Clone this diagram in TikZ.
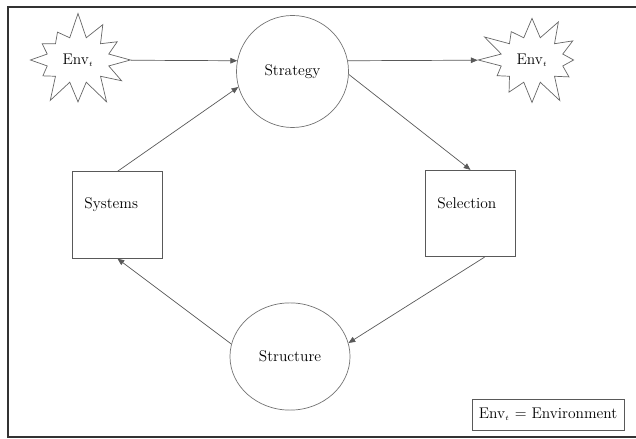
\documentclass[tikz,border=0pt]{standalone}
\usepackage{amsmath, amssymb}
\usepackage{tikz}
\usetikzlibrary{arrows.meta, positioning, shapes, shapes.geometric, shapes.symbols, calc}

\begin{document}
\begin{tikzpicture}[
  x=0.025cm, y=0.025cm,
  every node/.style={font=\fontsize{11}{13}\selectfont},
  burst/.style={starburst, draw=black!60, line width=0.5pt, starburst points=12,
    starburst point height=0.65cm, minimum width=2.4cm, minimum height=2.2cm,
    inner xsep=5pt, inner ysep=7pt},
  roundbox/.style={circle, draw=black!55, line width=0.5pt, minimum size=2.8cm},
  ovalbox/.style={ellipse, draw=black!55, line width=0.5pt, minimum width=3.0cm, minimum height=2.68cm},
  squarebox/.style={rectangle, draw=black!65, line width=0.6pt, minimum width=2.23cm, minimum height=2.16cm},
  frame/.style={draw=black!80, line width=1.3pt},
  flow/.style={draw=black!65, line width=0.5pt, -{Triangle[length=1.7mm, width=1.4mm]}}
]
\useasboundingbox (0,0) rectangle (636,439);
\draw[frame] (640,432) -- (8,432) -- (8,2) -- (640,2);

\node[burst, random starburst=7] (EnvIn) at (78,379) {Env$_{\scriptscriptstyle t}$};
\node[roundbox] (Strategy) at (292.5,367.5) {Strategy};
\node[burst, random starburst=21] (EnvOut) at (532,379) {Env$_{\scriptscriptstyle t}$};

\node[squarebox] (Systems) at (117.5,224) {};
\node[anchor=west] (SystemsText) at ($(Systems.north west)+(7,-33)$) {Systems};
\node[squarebox] (Selection) at (470.5,225.5) {};
\node[anchor=west] (SelectionText) at ($(Selection.north west)+(7,-33)$) {Selection};

\node[ovalbox] (Structure) at (290,82.5) {Structure};

\node[rectangle, draw=black!65, line width=0.5pt, minimum width=3.8cm, minimum height=0.78cm] (Legend) at (548,24.5) {Env$_{\scriptscriptstyle t}$ = Environment};

\draw[flow] (EnvIn) -- (Strategy.169);
\draw[flow] (Strategy.11) -- (EnvOut);
\draw[flow] (Systems.north) -- (Strategy.196);
\draw[flow] (Strategy.-3) -- (Selection.north);
\draw[flow] ([xshift=10]Selection.south) -- (Structure.13);
\draw[flow] (Structure.168) -- (Systems.south);
\end{tikzpicture}
\end{document}
